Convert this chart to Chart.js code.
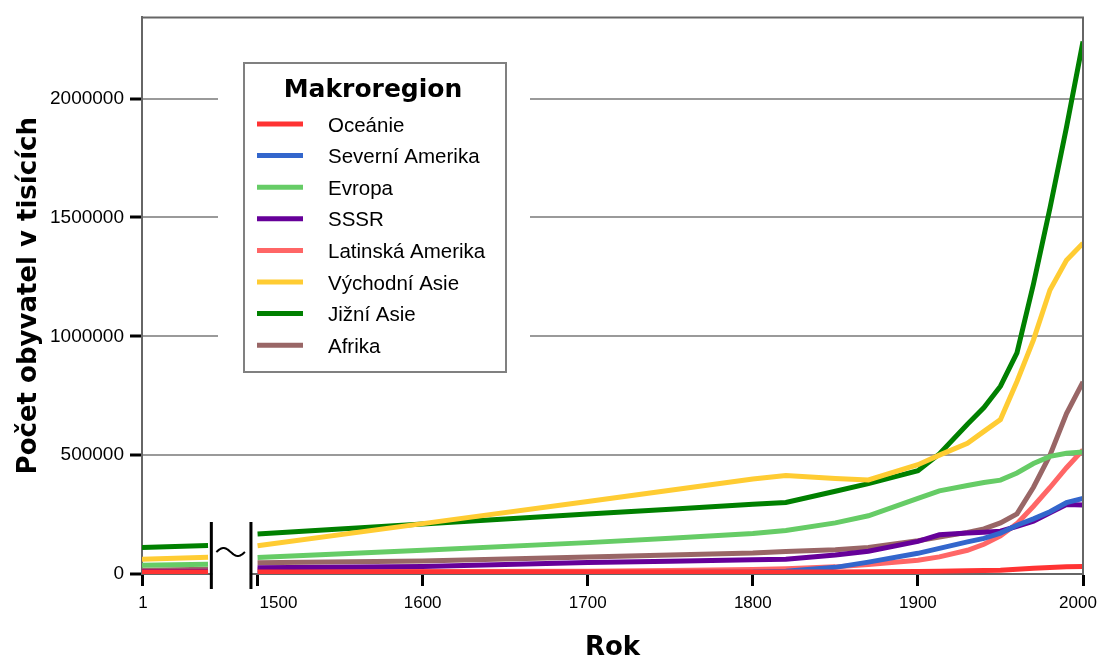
<!DOCTYPE html>
<html lang="cs">
<head>
<meta charset="utf-8">
<title>Počet obyvatel podle makroregionů</title>
<script src="https://cdn.jsdelivr.net/npm/chart.js@4.4.1/dist/chart.umd.min.js"></script>
<style>
  html, body { margin: 0; padding: 0; background: #fff; }
  #wrap { width: 1100px; height: 662px; }
</style>
</head>
<body>
<div id="wrap"><canvas id="chart" width="1100" height="662"></canvas></div>
<script>
// roky: rok 1 a 1000 jsou na ose stlačené před přerušením
const earlyYears = [1, 1000];
const years = [1500, 1600, 1700, 1750, 1800, 1820, 1850, 1870, 1900, 1913, 1930, 1940, 1950, 1960, 1970, 1980, 1990, 2000];
const xTickYears = [1, 1500, 1600, 1700, 1800, 1900, 2000];
const yTicks = [0, 500000, 1000000, 1500000, 2000000];

const regions = ['Oceánie', 'Severní Amerika', 'Evropa', 'SSSR', 'Latinská Amerika', 'Východní Asie', 'Jižní Asie', 'Afrika'];
const colors = ['#ff3333', '#3366cc', '#66cc66', '#660099', '#ff6666', '#ffcc33', '#008000', '#996666'];

// počet obyvatel v tisících
const oceanieEarly = [8000, 8000];
const oceanie = [8000, 8000, 8000, 8000, 8000, 8000, 8000, 9000, 10000, 12000, 14000, 15000, 16000, 20000, 24000, 27000, 30000, 32000];
const severniAmerikaEarly = [1000, 2000];
const severniAmerika = [3000, 3000, 4000, 6000, 8000, 12000, 28000, 50000, 87000, 108000, 135000, 150000, 172000, 205000, 232000, 262000, 300000, 318000];
const evropaEarly = [37000, 41000];
const evropa = [69000, 100000, 132000, 150000, 170000, 183000, 215000, 245000, 318000, 350000, 372000, 385000, 395000, 425000, 465000, 495000, 508000, 513000];
const sssrEarly = [10000, 12000];
const sssr = [26000, 32000, 48000, 54000, 60000, 62000, 80000, 96000, 137000, 165000, 172000, 176000, 180000, 200000, 222000, 258000, 292000, 290000];
const latinskaAmerikaEarly = [10000, 12000];
const latinskaAmerika = [18000, 10000, 12000, 15000, 19000, 22000, 30000, 40000, 58000, 72000, 100000, 125000, 160000, 212000, 285000, 364000, 447000, 522000];
const vychodniAsieEarly = [62000, 70000];
const vychodniAsie = [119000, 212000, 305000, 352000, 400000, 414000, 402000, 396000, 460000, 500000, 550000, 600000, 650000, 810000, 985000, 1195000, 1320000, 1392000];
const jizniAsieEarly = [112000, 120000];
const jizniAsie = [168000, 210000, 252000, 272000, 293000, 301000, 348000, 380000, 435000, 505000, 630000, 700000, 790000, 930000, 1220000, 1540000, 1880000, 2240000];
const afrikaEarly = [16000, 20000];
const afrika = [47000, 55000, 72000, 80000, 88000, 95000, 102000, 112000, 140000, 155000, 175000, 190000, 215000, 253000, 365000, 500000, 675000, 808000];

const earlySeries = [oceanieEarly, severniAmerikaEarly, evropaEarly, sssrEarly, latinskaAmerikaEarly, vychodniAsieEarly, jizniAsieEarly, afrikaEarly];
const mainSeries = [oceanie, severniAmerika, evropa, sssr, latinskaAmerika, vychodniAsie, jizniAsie, afrika];

// přerušená osa: rok 1 -> 1430, rok 1000 -> 1470, od 1500 normálně
const EARLY_START = 1430;
const EARLY_END = 1470;
const BREAK_FROM = 1472;
const BREAK_TO = 1496;
function axisYear(year) {
  if (year >= 1500) return year;
  return EARLY_START + (year - 1) / 999 * (EARLY_END - EARLY_START);
}

const datasets = regions.map((name, i) => ({
  label: name,
  data: [
    ...earlyYears.map((yr, j) => ({ x: axisYear(yr), y: earlySeries[i][j] })),
    { x: 1485, y: null },
    ...years.map((yr, j) => ({ x: yr, y: mainSeries[i][j] }))
  ],
  borderColor: colors[i],
  backgroundColor: colors[i],
  borderWidth: 5,
  pointRadius: 0,
  tension: 0,
  spanGaps: false,
  fill: false
}));

const GRAY = '#666666';
const TITLE_FONT = { family: '"DejaVu Sans", Verdana, sans-serif', weight: 'bold', size: 26 };

const decorations = {
  id: 'decorations',
  afterDatasetsDraw(chart) {
    const { ctx, chartArea, scales } = chart;
    const x = scales.x;
    ctx.save();

    // horní a pravý okraj
    ctx.strokeStyle = GRAY;
    ctx.lineWidth = 2;
    ctx.beginPath();
    ctx.moveTo(chartArea.left, chartArea.top);
    ctx.lineTo(chartArea.right, chartArea.top);
    ctx.lineTo(chartArea.right, chartArea.bottom);
    ctx.stroke();

    // přerušení osy
    const b1 = x.getPixelForValue(BREAK_FROM);
    const b2 = x.getPixelForValue(BREAK_TO);
    const by = chartArea.bottom;
    ctx.fillStyle = '#fff';
    ctx.fillRect(b1 + 1, by - 4, b2 - b1 - 2, 8);
    ctx.strokeStyle = '#000';
    ctx.lineWidth = 3;
    ctx.beginPath();
    ctx.moveTo(b1, by - 52);
    ctx.lineTo(b1, by + 15);
    ctx.moveTo(b2, by - 52);
    ctx.lineTo(b2, by + 15);
    ctx.stroke();
    ctx.lineWidth = 2;
    ctx.beginPath();
    const tx0 = b1 + 5, tx1 = b2 - 6, ty = by - 22;
    for (let k = 0; k <= 30; k++) {
      const t = k / 30;
      const px = tx0 + (tx1 - tx0) * t;
      const py = ty - 4 * Math.sin(t * Math.PI * 2);
      if (k === 0) ctx.moveTo(px, py); else ctx.lineTo(px, py);
    }
    ctx.stroke();

    // popisky osy x
    ctx.fillStyle = '#000';
    ctx.font = '17px "Liberation Sans", Arial, sans-serif';
    ctx.textBaseline = 'alphabetic';
    xTickYears.forEach(yr => {
      const px = x.getPixelForValue(axisYear(yr));
      let lx = px, align = 'center';
      if (yr === 1500) { align = 'left'; lx = px + 2; }
      if (yr === 2000) { lx = px - 5; }
      if (yr === 1) { lx = px + 1; }
      ctx.textAlign = align;
      ctx.fillText(String(yr), lx, chartArea.bottom + 34);
    });

    // legenda
    const L = 244, T = 63, R = 506, B = 372;
    ctx.fillStyle = '#fff';
    ctx.fillRect(218, T, 530 - 218, B - T);
    ctx.strokeStyle = '#808080';
    ctx.lineWidth = 2;
    ctx.strokeRect(L, T, R - L, B - T);
    ctx.fillStyle = '#000';
    ctx.textAlign = 'center';
    ctx.font = 'bold 25px "DejaVu Sans", Verdana, sans-serif';
    ctx.fillText('Makroregion', (L + R) / 2 - 2, 97);
    ctx.font = '20.5px "Liberation Sans", Arial, sans-serif';
    ctx.textAlign = 'left';
    regions.forEach((name, i) => {
      const ry = 124 + i * 31.6;
      ctx.strokeStyle = colors[i];
      ctx.lineWidth = 5;
      ctx.beginPath();
      ctx.moveTo(257, ry);
      ctx.lineTo(303, ry);
      ctx.stroke();
      ctx.fillStyle = '#000';
      ctx.fillText(name, 328, ry + 7.5);
    });

    ctx.restore();
  }
};

new Chart(document.getElementById('chart'), {
  type: 'line',
  data: { datasets },
  options: {
    responsive: false,
    animation: false,
    devicePixelRatio: 1,
    layout: { padding: { top: 12, right: 17, left: 0, bottom: 0 } },
    plugins: { legend: { display: false }, tooltip: { enabled: false } },
    scales: {
      x: {
        type: 'linear',
        min: EARLY_START,
        max: 2000,
        afterBuildTicks: scale => { scale.ticks = xTickYears.map(y => ({ value: axisYear(y) })); },
        afterFit: scale => { scale.height = 88; },
        ticks: { display: false },
        grid: { drawOnChartArea: false, drawTicks: true, tickLength: 12, tickColor: '#000', tickWidth: 3 },
        border: { color: GRAY, width: 2 },
        title: {
          display: true,
          text: 'Rok',
          color: '#000',
          font: TITLE_FONT,
          padding: { top: 0, bottom: -2 }
        }
      },
      y: {
        min: 0,
        max: 2341667,
        afterBuildTicks: scale => { scale.ticks = yTicks.map(v => ({ value: v })); },
        afterFit: scale => { scale.width = 142; },
        ticks: {
          color: '#000',
          padding: 6,
          font: { family: '"Liberation Sans", Arial, sans-serif', size: 19 },
          callback: v => String(v)
        },
        grid: { color: '#9a9a9a', lineWidth: 2, tickLength: 12, tickColor: '#000', tickWidth: 3 },
        border: { color: GRAY, width: 2 },
        title: {
          display: true,
          text: 'Počet obyvatel v tisících',
          color: '#000',
          font: TITLE_FONT,
          padding: { top: 14, bottom: 0 }
        }
      }
    }
  },
  plugins: [decorations]
});
</script>
</body>
</html>
